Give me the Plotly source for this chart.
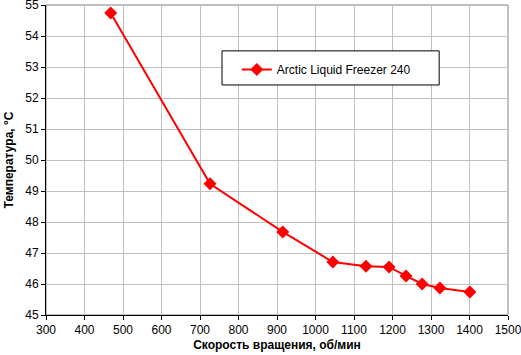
import plotly.graph_objects as go

rpm = [468, 726, 915, 1045, 1131, 1191, 1235, 1277, 1323, 1401]
temp = [54.74, 49.23, 47.68, 46.71, 46.57, 46.55, 46.26, 46.0, 45.87, 45.74]
series_name = "Arctic Liquid Freezer 240"
x_title = "Скорость вращения, об/мин"
y_title = "Температура, °C"

fig = go.Figure()
fig.add_trace(go.Scatter(
    x=rpm, y=temp, mode="lines+markers", name=series_name,
    line=dict(color="#ff0000", width=2),
    marker=dict(symbol="diamond", size=10, color="#ff0000"),
))

font = "Liberation Sans, Arial, sans-serif"
fig.update_layout(
    width=521, height=355,
    margin=dict(l=46, r=13, t=5, b=40, autoexpand=False),
    paper_bgcolor="white", plot_bgcolor="white",
    font=dict(family=font, size=12, color="black"),
    showlegend=True,
    legend=dict(
        x=0.413, y=0.839, xanchor="left", yanchor="top",
        bgcolor="rgba(0,0,0,0)", borderwidth=0,
        font=dict(family=font, size=12, color="black"),
    ),
    shapes=[
        dict(type="rect", xref="paper", yref="paper", x0=0, x1=1, y0=0, y1=1,
             line=dict(color="#808080", width=1), layer="below"),
        dict(type="rect", xref="paper", yref="paper", x0=0.381, x1=0.851, y0=0.742, y1=0.852,
             line=dict(color="black", width=1), fillcolor="white", layer="above"),
    ],
)
fig.update_xaxes(
    range=[300, 1500], dtick=100, tick0=300,
    showgrid=True, gridcolor="#c0c0c0", gridwidth=1,
    showline=True, linecolor="black", linewidth=1,
    ticks="outside", ticklen=4, tickcolor="black",
    zeroline=False, automargin=False, ticklabeloverflow="allow",
    title=dict(text="<b>" + x_title + "</b>", standoff=4,
               font=dict(family=font, size=12)),
)
fig.update_yaxes(
    range=[45, 55], dtick=1,
    showgrid=True, gridcolor="#c0c0c0", gridwidth=1,
    showline=True, linecolor="black", linewidth=1,
    ticks="outside", ticklen=4, tickcolor="black",
    zeroline=False, automargin=False, ticklabeloverflow="allow",
    title=dict(text="<b>" + y_title + "</b>", standoff=9,
               font=dict(family=font, size=12)),
)

fig.write_html("out.html", config={"displayModeBar": False},
               post_script="document.body.style.margin='0';")
